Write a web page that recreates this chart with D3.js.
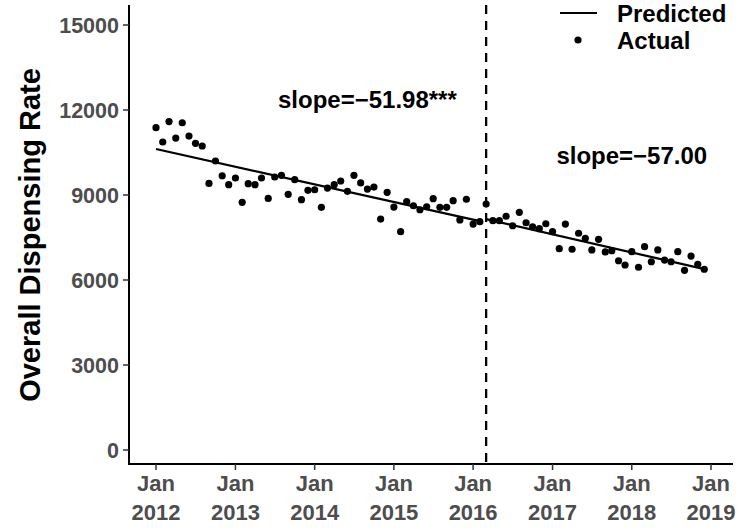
<!DOCTYPE html>
<html><head><meta charset="utf-8">
<script src="https://cdn.jsdelivr.net/npm/d3@7"></script>
<style>body{margin:0;background:#fff}svg{display:block;font-family:"Liberation Sans",Arial,Helvetica,sans-serif}</style>
</head><body>
<svg id="c" width="750" height="532"></svg>
<script>
// Monthly actual values, Jan 2012 .. Dec 2018
const startMonth = "2012-01";
const actual = [
11375,10870,11590,11010,11550,11080,10825,10730,9410,10200,9680,9365,
9600,8740,9400,9365,9600,8880,9635,9695,9025,9540,8835,9165,
9185,8565,9245,9365,9495,9130,9695,9425,9210,9280,8150,9095,
8575,7705,8765,8620,8480,8585,8870,8565,8565,8800,8120,8850,
7975,8060,8680,8095,8095,8250,7915,8390,8020,7880,7810,7985,
7705,7105,7975,7085,7650,7470,7060,7435,6990,7035,6680,6530,
7000,6450,7175,6645,7060,6705,6645,7000,6340,6845,6555,6380
];
// Predicted (fitted) segments: [start date, end date] and [start value, end value]
const predDates = [["2012-01","2016-02"],["2016-03","2018-12"]];
const predValues = [[10624,8077],[8150,6385]];
const interventionDate = "2016-03";
const yTicks = [0,3000,6000,9000,12000,15000];
const xTickYears = [2012,2013,2014,2015,2016,2017,2018,2019];
const slopeLabels = ["slope=\u221251.98***","slope=\u221257.00"];
const labelAnchors = [["2014-09",12070],["2018-01",10090]];
const legendLabels = ["Predicted","Actual"];

(function(){
const parse = d3.timeParse("%Y-%m");
const t0 = parse(startMonth);
const pts = actual.map((v,i)=>({date:d3.timeMonth.offset(t0,i), value:v}));

const svg = d3.select("#c");
const x = d3.scaleTime().domain([new Date(2012,0,1), new Date(2019,0,1)]).range([156,711]);
const y = d3.scaleLinear().domain([0,15000]).range([450,25]);
const pL=129, pB=464, pT=5, pR=733;
const tickCol="#4d4d4d";

svg.append("line").attr("x1",pL).attr("x2",pL).attr("y1",pT).attr("y2",pB+1).attr("stroke","#000").attr("stroke-width",2);
svg.append("line").attr("x1",pL-1).attr("x2",pR).attr("y1",pB).attr("y2",pB).attr("stroke","#000").attr("stroke-width",2);

const yg = svg.append("g");
yTicks.forEach(t=>{
  yg.append("line").attr("x1",pL-6).attr("x2",pL).attr("y1",y(t)).attr("y2",y(t)).attr("stroke","#333").attr("stroke-width",1.5);
  yg.append("text").attr("x",pL-10).attr("y",y(t)).attr("dy","0.36em").attr("text-anchor","end")
    .attr("font-size",21.5).attr("font-weight","bold").attr("fill",tickCol).text(t);
});
const xg = svg.append("g");
xTickYears.forEach(yr=>{
  const xx = x(new Date(yr,0,1));
  xg.append("line").attr("x1",xx).attr("x2",xx).attr("y1",pB).attr("y2",pB+6).attr("stroke","#333").attr("stroke-width",1.5);
  const tx = xg.append("text").attr("text-anchor","middle").attr("font-size",22).attr("font-weight","bold").attr("fill",tickCol);
  tx.append("tspan").attr("x",xx).attr("y",491).text("Jan");
  tx.append("tspan").attr("x",xx).attr("y",520).text(yr);
});

svg.append("text").attr("transform","translate(40,235) rotate(-90)").attr("text-anchor","middle")
  .attr("font-size",29).attr("font-weight","bold").attr("fill","#000").text("Overall Dispensing Rate");

const xi = x(parse(interventionDate));
svg.append("line").attr("x1",xi).attr("x2",xi).attr("y1",pT).attr("y2",pB).attr("stroke","#000").attr("stroke-width",2.3).attr("stroke-dasharray","9,7");

predDates.forEach((d,i)=>{
  svg.append("line").attr("x1",x(parse(d[0]))).attr("y1",y(predValues[i][0]))
    .attr("x2",x(parse(d[1]))).attr("y2",y(predValues[i][1])).attr("stroke","#000").attr("stroke-width",2.2);
});

svg.append("g").selectAll("circle").data(pts).join("circle")
  .attr("cx",d=>x(d.date)).attr("cy",d=>y(d.value)).attr("r",3.6).attr("fill","#000");

slopeLabels.forEach((s,i)=>{
  svg.append("text").attr("x",x(parse(labelAnchors[i][0]))).attr("y",y(labelAnchors[i][1])).attr("text-anchor","middle")
    .attr("font-size",24).attr("font-weight","bold").attr("fill","#000").text(s);
});

svg.append("line").attr("x1",560).attr("x2",597).attr("y1",13).attr("y2",13).attr("stroke","#000").attr("stroke-width",2.2);
svg.append("circle").attr("cx",578).attr("cy",40).attr("r",3.6).attr("fill","#000");
svg.append("text").attr("x",617).attr("y",22).attr("font-size",24).attr("font-weight","bold").text(legendLabels[0]);
svg.append("text").attr("x",617).attr("y",49).attr("font-size",24).attr("font-weight","bold").text(legendLabels[1]);
})();
</script>
</body></html>
